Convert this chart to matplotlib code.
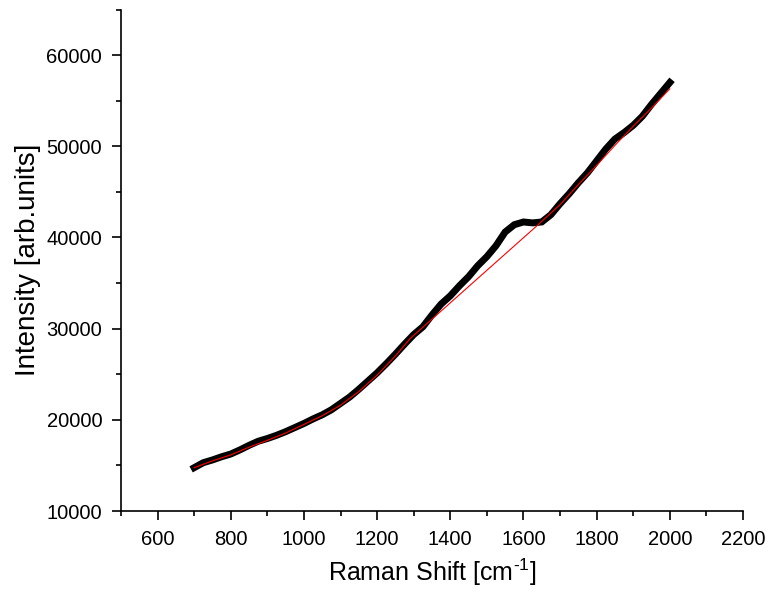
import numpy as np
import matplotlib
matplotlib.use("Agg")
import matplotlib.pyplot as plt
from matplotlib.ticker import MultipleLocator

plt.rcParams["font.family"] = ["Liberation Sans", "DejaVu Sans"]
plt.rcParams["mathtext.fontset"] = "custom"
plt.rcParams["mathtext.rm"] = "Liberation Sans"
plt.rcParams["mathtext.default"] = "regular"

# measured spectrum (black)
shift = [700, 725, 750, 775, 800, 825, 850, 875, 900, 925, 950, 975,
         1000, 1025, 1050, 1075, 1100, 1125, 1150, 1175, 1200, 1225, 1250,
         1275, 1300, 1325, 1350, 1375, 1400, 1425, 1450, 1475, 1500, 1525,
         1550, 1575, 1600, 1625, 1650, 1675, 1700, 1725, 1750, 1775, 1800,
         1825, 1850, 1875, 1900, 1925, 1950, 1975, 2000]
intensity = [14750, 15300, 15600, 15950, 16250, 16700, 17200, 17650, 17950,
             18300, 18700, 19150, 19600, 20100, 20550, 21100, 21800, 22500,
             23350, 24250, 25150, 26150, 27200, 28300, 29350, 30200, 31500,
             32700, 33600, 34700, 35700, 36900, 37900, 39100, 40600, 41400,
             41700, 41600, 41700, 42500, 43700, 44800, 46000, 47100, 48400,
             49700, 50800, 51500, 52300, 53300, 54600, 55800, 57000]

# fitted baseline (red)
base_shift = [700, 750, 800, 850, 900, 950, 1000, 1050, 1100, 1150, 1200,
              1250, 1290, 1640, 1700, 1750, 1800, 1850, 1900, 1950, 2000]
base_intensity = [14750, 15500, 16150, 17000, 17750, 18550, 19500, 20450,
                  21600, 23100, 24900, 27000, 28900, 41400, 43600, 45800,
                  47900, 50100, 52200, 54200, 56300]

fig = plt.figure(figsize=(7.69, 5.96), dpi=100)
ax = fig.add_axes([0.1573, 0.1426, 0.8089, 0.8414])

ax.plot(shift, intensity, color="black", lw=5, solid_capstyle="projecting",
        solid_joinstyle="miter")
ax.plot(base_shift, base_intensity, color="red", lw=0.8)

ax.set_xlim(500, 2200)
ax.set_ylim(10000, 65000)
ax.xaxis.set_major_locator(MultipleLocator(200))
ax.xaxis.set_minor_locator(MultipleLocator(100))
ax.yaxis.set_major_locator(MultipleLocator(10000))
ax.yaxis.set_minor_locator(MultipleLocator(5000))

for s in ["top", "right"]:
    ax.spines[s].set_visible(False)
for s in ["left", "bottom"]:
    ax.spines[s].set_linewidth(1.2)

ax.tick_params(which="major", length=6.5, width=1.2, labelsize=14.5,
               direction="out", pad=7)
ax.tick_params(which="minor", length=3.3, width=1.2, direction="out")

ax.set_xticks(np.arange(600, 2201, 200))
ax.set_xlabel(r"Raman Shift [cm$^{\text{-1}}$]", fontsize=18, labelpad=6)
ax.set_ylabel("Intensity [arb.units]", fontsize=20, labelpad=4)

fig.savefig("out.png", dpi=100)
